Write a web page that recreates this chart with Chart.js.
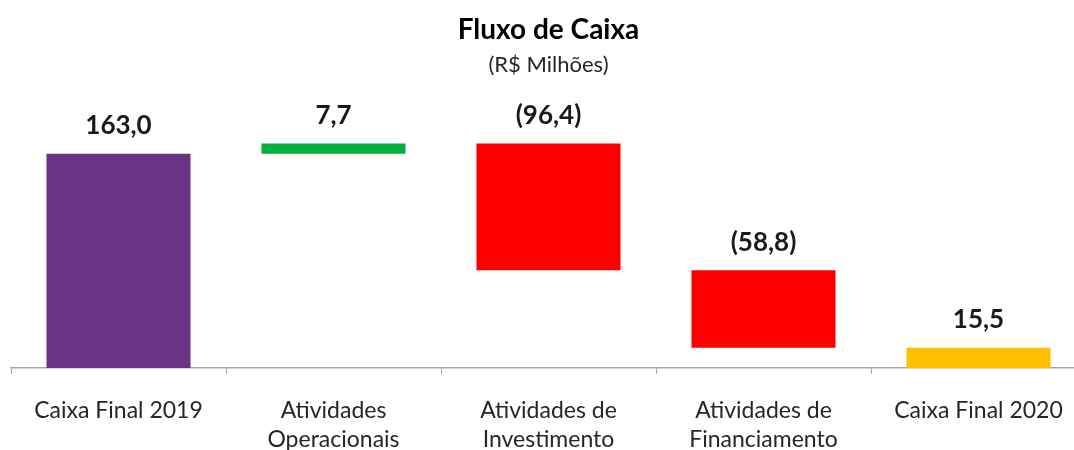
<!DOCTYPE html>
<html>
<head>
<meta charset="utf-8">
<script src="https://cdn.jsdelivr.net/npm/chart.js@4"></script>
<style>
    html, body { margin: 0; padding: 0; background: #fff; overflow: hidden; }
    #wrap { position: absolute; left: 0; top: 0; }
</style>
</head>
<body>
<div id="wrap"><canvas id="cashChart" width="1097" height="484"></canvas></div>
<script>
// Chart data
const categories = [
    'Caixa Final 2019',
    ['Atividades', 'Operacionais'],
    ['Atividades de', 'Investimento'],
    ['Atividades de', 'Financiamento'],
    'Caixa Final 2020'
];
const values = [163.0, 7.7, -96.4, -58.8, 15.5];
const isTotal = [true, false, false, false, true];
const barColors = ['#6A3386', '#00B03C', '#FF0000', '#FF0000', '#FFC000'];

// Build floating ranges for the waterfall
function buildRanges() {
    let running = 0;
    return values.map((v, i) => {
        if (isTotal[i]) {
            running = v;
            return [0, v];
        }
        const start = running;
        running += v;
        return [start, running];
    });
}

function formatValue(v) {
    const txt = Math.abs(v).toFixed(1).replace('.', ',');
    return v < 0 ? `(${txt})` : txt;
}

// Value labels above each bar
const valueLabels = {
    id: 'valueLabels',
    afterDatasetsDraw(chart) {
        const ctx = chart.ctx;
        const meta = chart.getDatasetMeta(0);
        ctx.save();
        ctx.font = 'bold 26px Lato';
        ctx.fillStyle = '#1a1a1a';
        ctx.textAlign = 'center';
        ctx.textBaseline = 'middle';
        meta.data.forEach((bar, i) => {
            const top = Math.min(bar.y, bar.base);
            ctx.fillText(formatValue(values[i]), bar.x, top - 28);
        });
        ctx.restore();
    }
};

const ctx = document.getElementById('cashChart').getContext('2d');
new Chart(ctx, {
    type: 'bar',
    data: {
        labels: categories,
        datasets: [{
            data: buildRanges(),
            backgroundColor: barColors,
            borderWidth: 0,
            barPercentage: 0.67,
            categoryPercentage: 1
        }]
    },
    options: {
        responsive: false,
        animation: false,
        layout: {
            padding: { left: 11, right: 11, top: 0, bottom: 8 }
        },
        plugins: {
            legend: { display: false },
            tooltip: { enabled: false },
            title: {
                display: true,
                text: 'Fluxo de Caixa',
                color: '#000',
                font: { family: 'Lato', size: 28, weight: 'bold', lineHeight: 1.2 },
                padding: { top: 13, bottom: 4 }
            },
            subtitle: {
                display: true,
                text: '(R$ Milhões)',
                color: '#262626',
                font: { family: 'Lato', size: 22, lineHeight: 1.2 },
                padding: { top: 1, bottom: 27 }
            }
        },
        scales: {
            x: {
                grid: {
                    offset: true,
                    drawOnChartArea: false,
                    drawTicks: true,
                    tickLength: 6,
                    color: '#A6A6A6'
                },
                border: { color: '#A6A6A6', width: 1.5 },
                ticks: {
                    color: '#262626',
                    padding: 22,
                    maxRotation: 0,
                    autoSkip: false,
                    font: { family: 'Lato', size: 23, lineHeight: 1.26 }
                }
            },
            y: {
                display: false,
                min: 0,
                max: 200
            }
        }
    },
    plugins: [valueLabels]
});
</script>
</body>
</html>
